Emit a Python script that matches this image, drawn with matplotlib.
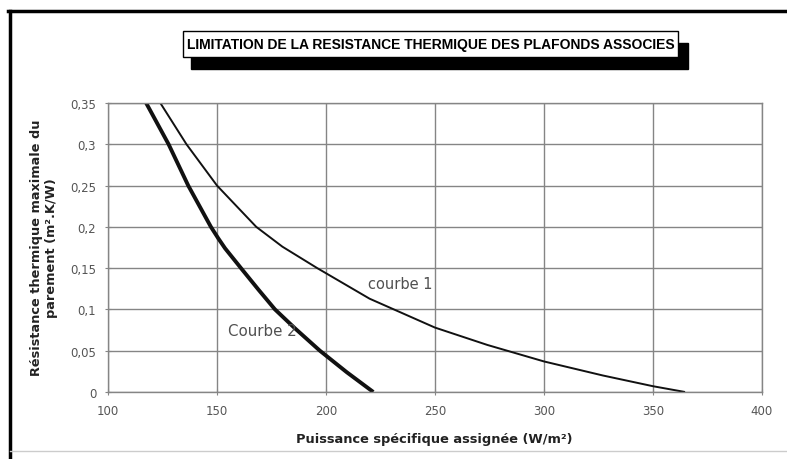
import matplotlib
matplotlib.use("Agg")
import matplotlib.pyplot as plt
from matplotlib.patches import Rectangle
from matplotlib.lines import Line2D

# ---- data ----
courbe1_x = [124, 136, 150, 168, 180, 196, 220, 250, 274, 300, 327, 350, 364.7]
courbe1_y = [0.35, 0.30, 0.25, 0.20, 0.176, 0.15, 0.113, 0.078, 0.057, 0.037, 0.020, 0.007, 0.0]
courbe2_x = [117.5, 127.8, 136.8, 147.2, 150.6, 153.7, 161.0, 169, 176.6, 185.8, 197.2, 209.5, 221.7]
courbe2_y = [0.35, 0.30, 0.25, 0.20, 0.186, 0.174, 0.15, 0.124, 0.10, 0.077, 0.05, 0.024, 0.0]
x_ticks = [100, 150, 200, 250, 300, 350, 400]
y_ticks = [0, 0.05, 0.1, 0.15, 0.2, 0.25, 0.3, 0.35]
y_tick_labels = ["0", "0,05", "0,1", "0,15", "0,2", "0,25", "0,3", "0,35"]
title = "LIMITATION DE LA RESISTANCE THERMIQUE DES PLAFONDS ASSOCIES"
xlabel = "Puissance spécifique assignée (W/m²)"
ylabel = "Résistance thermique maximale du\nparement (m².K/W)"
label1 = "courbe 1"
label2 = "Courbe 2"

W, H = 787, 460
fig = plt.figure(figsize=(W / 100, H / 100), dpi=100)
fig.patch.set_facecolor("white")

def fx(px):
    return px / W

def fy(py):
    return 1 - py / H

ax = fig.add_axes([fx(108), fy(393), fx(762) - fx(108), fy(104) - fy(393)])
ax.set_xlim(100, 400)
ax.set_ylim(0, 0.35)
ax.set_xticks(x_ticks)
ax.set_yticks(y_ticks)
ax.set_yticklabels(y_tick_labels)
ax.grid(True, color="#858585", lw=1.0)
ax.set_axisbelow(True)
for s in ax.spines.values():
    s.set_color("#858585")
    s.set_linewidth(1.0)
ax.tick_params(direction="inout", length=5, color="#858585",
               labelsize=8.5, labelcolor="#555555", pad=6)
for lab in ax.get_xticklabels() + ax.get_yticklabels():
    lab.set_family(["DejaVu Sans"])

ax.plot(courbe1_x, courbe1_y, color="#111111", lw=1.4,
        solid_joinstyle="round", solid_capstyle="butt")
ax.plot(courbe2_x, courbe2_y, color="#111111", lw=2.8,
        solid_joinstyle="round", solid_capstyle="butt")

ax.text(219.3, 0.131, label1, fontsize=10.5, color="#505050", va="center",
        ha="left", family=["DejaVu Sans"])
ax.text(155, 0.074, label2, fontsize=10.8, color="#505050", va="center",
        ha="left", family=["DejaVu Sans"])

# axis labels
fig.text(fx(434), fy(440), xlabel, ha="center", va="center", fontsize=9.4,
         fontweight="bold", color="#222222", family=["DejaVu Sans"])
fig.text(fx(44), fy(248), ylabel, ha="center", va="center", fontsize=9.3,
         fontweight="bold", color="#222222", rotation=90, linespacing=1.2,
         family=["DejaVu Sans"])

# title box with shadow
fig.patches.append(Rectangle((fx(191), fy(70)), fx(688) - fx(191), fy(44) - fy(70),
                             transform=fig.transFigure, facecolor="black",
                             edgecolor="black", zorder=1))
fig.patches.append(Rectangle((fx(183), fy(58)), fx(678) - fx(183), fy(32) - fy(58),
                             transform=fig.transFigure, facecolor="white",
                             edgecolor="black", lw=1.0, zorder=2))
t = fig.text(fx(430.5), fy(45.5), title, ha="center", va="center", fontsize=11,
             fontweight="bold", color="black", zorder=3,
             family=["Liberation Sans", "DejaVu Sans"])
# fit the title width inside the box
fig.canvas.draw()
renderer = fig.canvas.get_renderer()
w = t.get_window_extent(renderer).width
target = 488.0
t.set_fontsize(11 * target / w)

# outer frame lines
fig.lines.append(Line2D([fx(8), 1.0], [fy(12), fy(12)], transform=fig.transFigure,
                        color="black", lw=2.5))
fig.lines.append(Line2D([fx(10), fx(10)], [fy(12), 0.0], transform=fig.transFigure,
                        color="black", lw=2.5))
fig.lines.append(Line2D([fx(10), 1.0], [fy(452), fy(452)], transform=fig.transFigure,
                        color="#cccccc", lw=1.0))

fig.savefig("out.png", dpi=100, facecolor="white")
